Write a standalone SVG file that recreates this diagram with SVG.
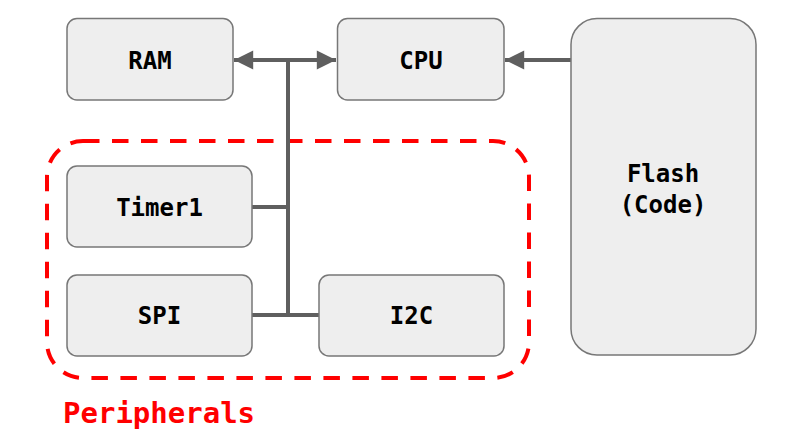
<svg xmlns="http://www.w3.org/2000/svg" width="794" height="447" viewBox="0 0 794 447">
<style>
.node{fill:#eeeeee;stroke:#777777;stroke-width:1.5}
.lbl{font-family:"DejaVu Sans Mono","Liberation Mono",monospace;font-size:24px;font-weight:bold;fill:#000;text-anchor:middle}
.wire{stroke:#5f5f5f;stroke-width:4;fill:none}
</style>
<defs>
<marker id="ah" viewBox="0 0 10 10" refX="10" refY="5" markerWidth="6.8" markerHeight="4.8" markerUnits="strokeWidth" orient="auto-start-reverse">
<path d="M0,0 L10,5 L0,10 Z" fill="#5f5f5f"/>
</marker>
</defs>
<rect width="794" height="447" fill="#ffffff"/>
<g id="peripherals">
<rect x="47" y="141" width="482" height="237" rx="36" fill="none" stroke="#ff0000" stroke-width="4" stroke-dasharray="16.5 12.5"/>
<text x="63" y="423" style="font-family:'DejaVu Sans Mono','Liberation Mono',monospace;font-size:29px;font-weight:bold;fill:#ff0000">Peripherals</text>
</g>
<g id="connectors">
<line class="wire" x1="234" y1="60" x2="336" y2="60" marker-start="url(#ah)" marker-end="url(#ah)"/>
<line class="wire" x1="571" y1="60" x2="505" y2="60" marker-end="url(#ah)"/>
<line class="wire" x1="288" y1="60" x2="288" y2="317"/>
<line class="wire" x1="252" y1="207" x2="290" y2="207"/>
<line class="wire" x1="252" y1="315" x2="319" y2="315"/>
</g>
<g id="ram"><rect class="node" x="67" y="18.5" width="166" height="81.5" rx="10"/><text class="lbl" x="150" y="69">RAM</text></g>
<g id="cpu"><rect class="node" x="337.5" y="18.5" width="166.5" height="81.5" rx="10"/><text class="lbl" x="421" y="69">CPU</text></g>
<g id="flash"><rect class="node" x="571" y="18.5" width="185" height="336.5" rx="26"/><text class="lbl" x="663" y="182">Flash</text><text class="lbl" x="663" y="213">(Code)</text></g>
<g id="timer1"><rect class="node" x="67" y="166" width="185" height="81" rx="10"/><text class="lbl" x="159.5" y="216">Timer1</text></g>
<g id="spi"><rect class="node" x="67" y="275" width="185" height="81" rx="10"/><text class="lbl" x="159.5" y="324">SPI</text></g>
<g id="i2c"><rect class="node" x="319" y="275" width="185" height="81" rx="10"/><text class="lbl" x="411.5" y="324">I2C</text></g>
</svg>
